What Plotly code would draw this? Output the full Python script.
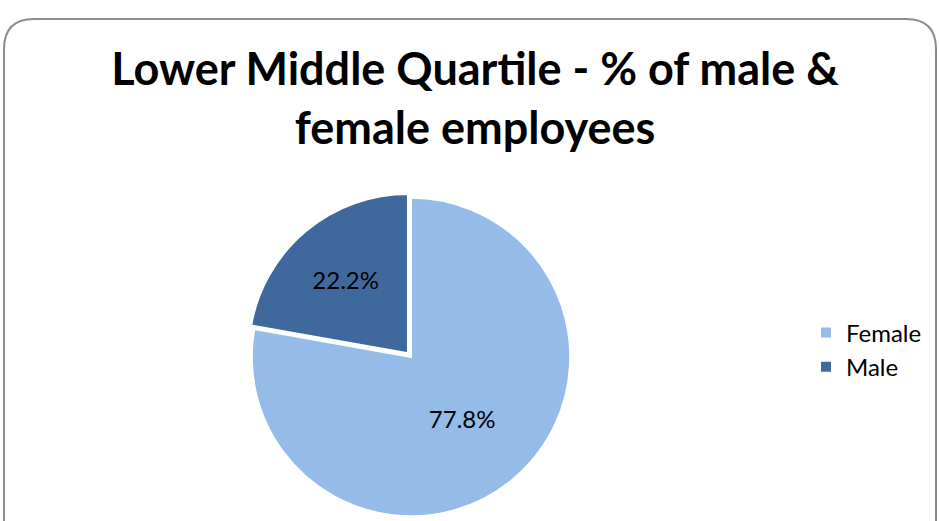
import plotly.graph_objects as go

labels = ["Female", "Male"]
values = [77.8, 22.2]
colors = ["#95BBE9", "#3F699D"]
pulls = [0, 0.03]

W, H = 939, 521

fig = go.Figure(go.Pie(
    labels=labels,
    values=values,
    sort=False,
    direction="clockwise",
    rotation=0,
    pull=pulls,
    marker=dict(colors=colors, line=dict(color="#FFFFFF", width=2)),
    textinfo="percent",
    texttemplate="%{percent:.1%}",
    textposition="inside",
    insidetextorientation="horizontal",
    textfont=dict(family="Lato, Open Sans, sans-serif", size=24, color="#000000"),
    domain=dict(x=[245 / W, 577 / W], y=[0, 1 - 193 / H]),
    hoverinfo="label+percent",
))

def px(x):
    return x / W

def py(y):
    return 1 - y / H

r = 30
left, top, right, bottom = 4, 19, 936, 540
path = (
    f"M {px(left)} {py(bottom)} "
    f"L {px(left)} {py(top + r)} "
    f"Q {px(left)} {py(top)} {px(left + r)} {py(top)} "
    f"L {px(right - r)} {py(top)} "
    f"Q {px(right)} {py(top)} {px(right)} {py(top + r)} "
    f"L {px(right)} {py(bottom)}"
)

fig.update_layout(
    width=W,
    height=H,
    margin=dict(l=0, r=0, t=0, b=0),
    paper_bgcolor="#FFFFFF",
    plot_bgcolor="#FFFFFF",
    title=dict(
        text="<b>Lower Middle Quartile - % of male &<br>female employees</b>",
        x=475 / W,
        xanchor="center",
        y=1 - 85 / H,
        yanchor="top",
        font=dict(family="Lato, Open Sans, sans-serif", size=45, color="#000000"),
    ),
    legend=dict(
        x=806 / W,
        xanchor="left",
        y=1 - 350 / H,
        yanchor="middle",
        font=dict(family="Lato, Open Sans, sans-serif", size=24, color="#000000"),
        itemwidth=30,
        bgcolor="rgba(0,0,0,0)",
    ),
    shapes=[dict(type="path", xref="paper", yref="paper", path=path,
                 line=dict(color="#8C8C8C", width=2), fillcolor="rgba(0,0,0,0)")],
)

fig.write_html(
    "out.html",
    config={"displayModeBar": False},
    post_script="document.body.style.margin='0';document.body.style.overflow='hidden';",
)
